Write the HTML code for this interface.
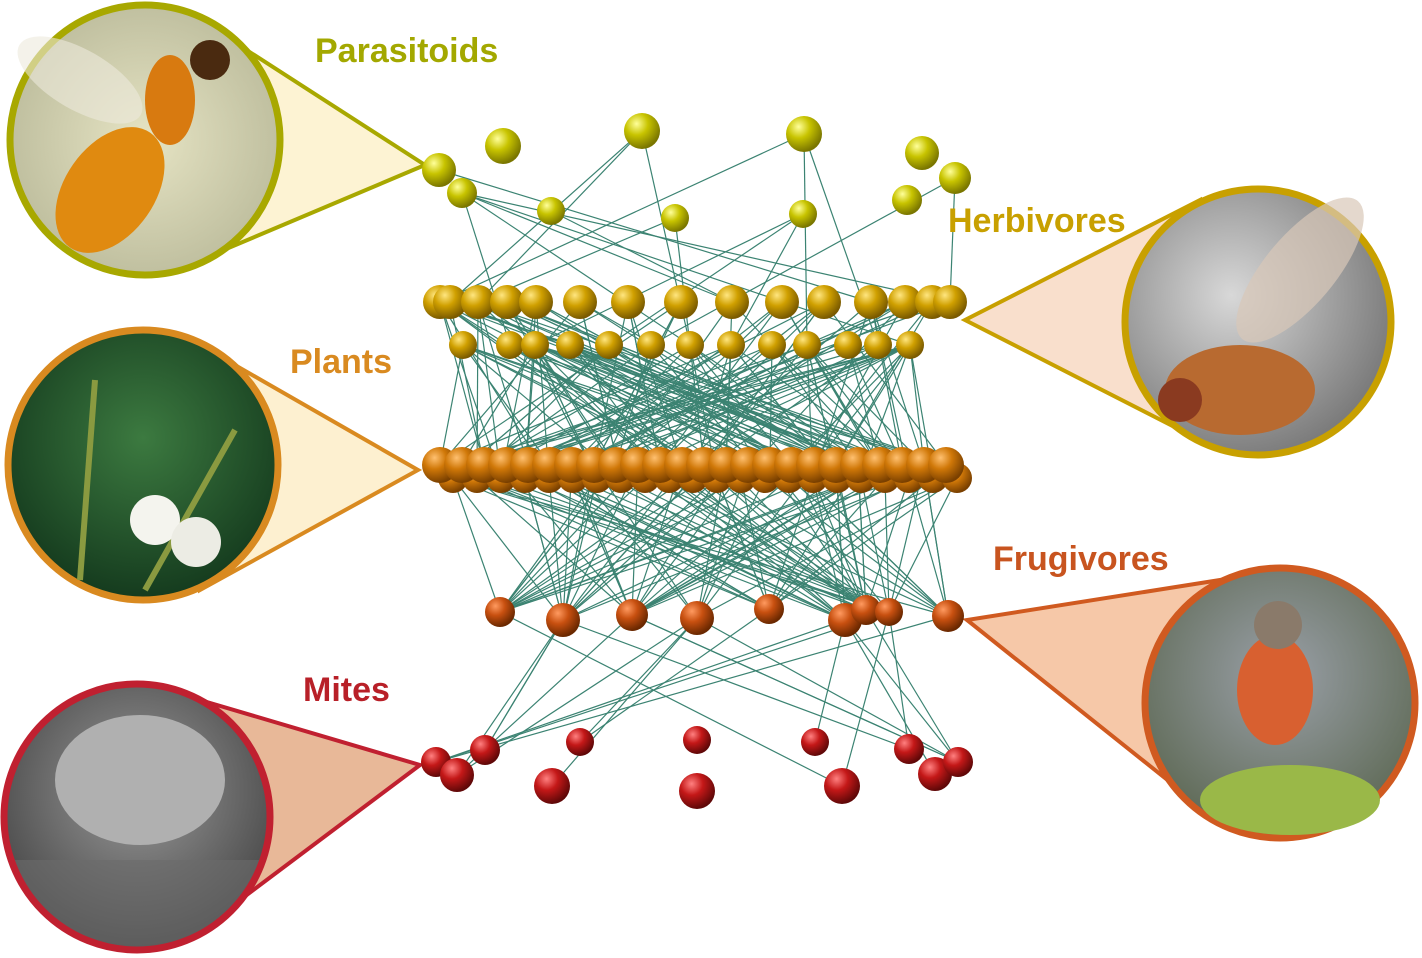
<!DOCTYPE html>
<html><head><meta charset="utf-8"><style>
html,body{margin:0;padding:0;background:#fff;}
body{width:1422px;height:958px;overflow:hidden;position:relative;font-family:"Liberation Sans",sans-serif;}
.lbl{position:absolute;font-weight:bold;font-size:34px;line-height:40px;}
</style></head><body>
<svg id="s" width="1422" height="958" style="position:absolute;left:0;top:0">
<defs>
<radialGradient id="gP" cx="35%" cy="30%" r="70%"><stop offset="0" stop-color="#ffff9a"/><stop offset=".45" stop-color="#c8c400"/><stop offset="1" stop-color="#7a7600"/></radialGradient>
<radialGradient id="gH" cx="35%" cy="30%" r="70%"><stop offset="0" stop-color="#ffe680"/><stop offset=".45" stop-color="#d0a000"/><stop offset="1" stop-color="#7a5a00"/></radialGradient>
<radialGradient id="gL" cx="35%" cy="30%" r="70%"><stop offset="0" stop-color="#ffc070"/><stop offset=".45" stop-color="#d07808"/><stop offset="1" stop-color="#7a4000"/></radialGradient>
<radialGradient id="gF" cx="35%" cy="30%" r="70%"><stop offset="0" stop-color="#ff9a60"/><stop offset=".45" stop-color="#c85010"/><stop offset="1" stop-color="#6a2800"/></radialGradient>
<radialGradient id="gM" cx="35%" cy="30%" r="70%"><stop offset="0" stop-color="#ff8080"/><stop offset=".45" stop-color="#c41818"/><stop offset="1" stop-color="#600808"/></radialGradient>
<radialGradient id="ph1" cx="50%" cy="50%" r="60%"><stop offset="0" stop-color="#e6e4c4"/><stop offset="1" stop-color="#b8b898"/></radialGradient>
<radialGradient id="ph2" cx="40%" cy="40%" r="70%"><stop offset="0" stop-color="#d8d8d8"/><stop offset="1" stop-color="#707070"/></radialGradient>
<radialGradient id="ph3" cx="50%" cy="40%" r="70%"><stop offset="0" stop-color="#3c7a40"/><stop offset="1" stop-color="#0e3018"/></radialGradient>
<radialGradient id="ph4" cx="50%" cy="40%" r="70%"><stop offset="0" stop-color="#9aa0a8"/><stop offset="1" stop-color="#56624a"/></radialGradient>
<radialGradient id="ph5" cx="50%" cy="40%" r="70%"><stop offset="0" stop-color="#9a9a9a"/><stop offset="1" stop-color="#3a3a3a"/></radialGradient>
<clipPath id="cm"><circle cx="137" cy="817" r="133"/></clipPath>
</defs>
<polygon points="200,20 425,165 200,260" fill="#fdf3d3" stroke="#a8a800" stroke-width="4"/>
<polygon points="1200,200 965,320 1200,440" fill="#f9dfcc" stroke="#c8a000" stroke-width="4"/>
<polygon points="200,345 418,470 200,590" fill="#fdf0d0" stroke="#d98a20" stroke-width="4"/>
<polygon points="1220,580 967,620 1180,790" fill="#f6c8a8" stroke="#d05a20" stroke-width="4"/>
<polygon points="200,700 420,765 200,930" fill="#e8b898" stroke="#c02030" stroke-width="4"/>
<circle cx="145" cy="140" r="135" fill="url(#ph1)" stroke="#a8a800" stroke-width="7"/>
<ellipse cx="110" cy="190" rx="45" ry="70" fill="#e08a10" transform="rotate(35 110 190)"/>
<ellipse cx="170" cy="100" rx="25" ry="45" fill="#d87a10"/>
<circle cx="210" cy="60" r="20" fill="#4a2a10"/>
<ellipse cx="80" cy="80" rx="70" ry="30" fill="#eceadc" opacity=".6" transform="rotate(30 80 80)"/>
<circle cx="1258" cy="322" r="133" fill="url(#ph2)" stroke="#c8a000" stroke-width="7"/>
<ellipse cx="1300" cy="270" rx="35" ry="90" fill="#d8c8b8" opacity=".7" transform="rotate(40 1300 270)"/>
<ellipse cx="1240" cy="390" rx="75" ry="45" fill="#b86a30"/>
<circle cx="1180" cy="400" r="22" fill="#8a3a20"/>
<circle cx="143" cy="465" r="135" fill="url(#ph3)" stroke="#d98a20" stroke-width="7"/>
<line x1="95" y1="380" x2="80" y2="580" stroke="#8a9a40" stroke-width="6"/>
<line x1="235" y1="430" x2="145" y2="590" stroke="#8a9a40" stroke-width="6"/>
<circle cx="155" cy="520" r="25" fill="#f4f4ee"/><circle cx="196" cy="542" r="25" fill="#ecece4"/>
<circle cx="1280" cy="703" r="135" fill="url(#ph4)" stroke="#d05a20" stroke-width="7"/>
<ellipse cx="1275" cy="690" rx="38" ry="55" fill="#d86030"/>
<circle cx="1278" cy="625" r="24" fill="#8a7a6a"/>
<ellipse cx="1290" cy="800" rx="90" ry="35" fill="#9ab848"/>
<circle cx="137" cy="817" r="133" fill="url(#ph5)"/>
<g clip-path="url(#cm)">
<ellipse cx="140" cy="780" rx="85" ry="65" fill="#b0b0b0"/>
<rect x="0" y="860" width="280" height="100" fill="#6a6a6a" opacity=".6"/>
</g>
<circle cx="137" cy="817" r="133" fill="none" stroke="#c02030" stroke-width="7"/>
<g id="edges" stroke="#1a6e5a" stroke-width="1.2" opacity=".85"></g>
<g id="nodes"></g>
</svg>
<div class="lbl" style="left:315px;top:31px;color:#a3a800">Parasitoids</div>
<div class="lbl" style="left:948px;top:201px;color:#c8a000">Herbivores</div>
<div class="lbl" style="left:290px;top:342px;color:#d98a20">Plants</div>
<div class="lbl" style="left:993px;top:539px;color:#c8541f">Frugivores</div>
<div class="lbl" style="left:303px;top:670px;color:#b82028">Mites</div>
<script>
var P=[[439,170,17],[462,193,15],[503,146,18],[551,211,14],[642,131,18],[675,218,14],[804,134,18],[803,214,14],[922,153,17],[907,200,15],[955,178,16]];
var H=[];[463,510,535,570,609,651,690,731,772,807,848,878,910].forEach(function(x){H.push([x,345,14]);});
[440,450,478,507,536,580,628,681,732,782,824,871,905,932,950].forEach(function(x){H.push([x,302,17]);});
var L=[];for(var x=445;x<=955;x+=24)L.push([x+8,478,15]);for(var x=440;x<=955;x+=22)L.push([x,465,18]);
var F=[[500,612,15],[563,620,17],[632,615,16],[697,618,17],[769,609,15],[845,620,17],[866,610,15],[889,612,14],[948,616,16]];
var M=[[436,762,15],[457,775,17],[485,750,15],[552,786,18],[580,742,14],[697,740,14],[697,791,18],[815,742,14],[842,786,18],[909,749,15],[935,774,17],[958,762,15]];
var seed=7;function r(){seed=(seed*9301+49297)%233280;return seed/233280;}
var e=document.getElementById('edges'),n=document.getElementById('nodes'),ns='http://www.w3.org/2000/svg';
function ln(a,b){var l=document.createElementNS(ns,'line');l.setAttribute('x1',a[0]);l.setAttribute('y1',a[1]);l.setAttribute('x2',b[0]);l.setAttribute('y2',b[1]);e.appendChild(l);}
function pick(A){return A[Math.floor(r()*A.length)];}
for(var i=0;i<20;i++)ln(pick(P),pick(H));
for(var i=0;i<170;i++)ln(pick(H),pick(L));
for(var i=0;i<120;i++)ln(pick(L),pick(F));
for(var i=0;i<22;i++)ln(pick(F),pick(M));
function dr(A,g){A.forEach(function(p){var c=document.createElementNS(ns,'circle');c.setAttribute('cx',p[0]);c.setAttribute('cy',p[1]);c.setAttribute('r',p[2]);c.setAttribute('fill','url(#'+g+')');n.appendChild(c);});}
dr(P,'gP');dr(H,'gH');dr(L,'gL');dr(F,'gF');dr(M,'gM');
</script>
</body></html>
